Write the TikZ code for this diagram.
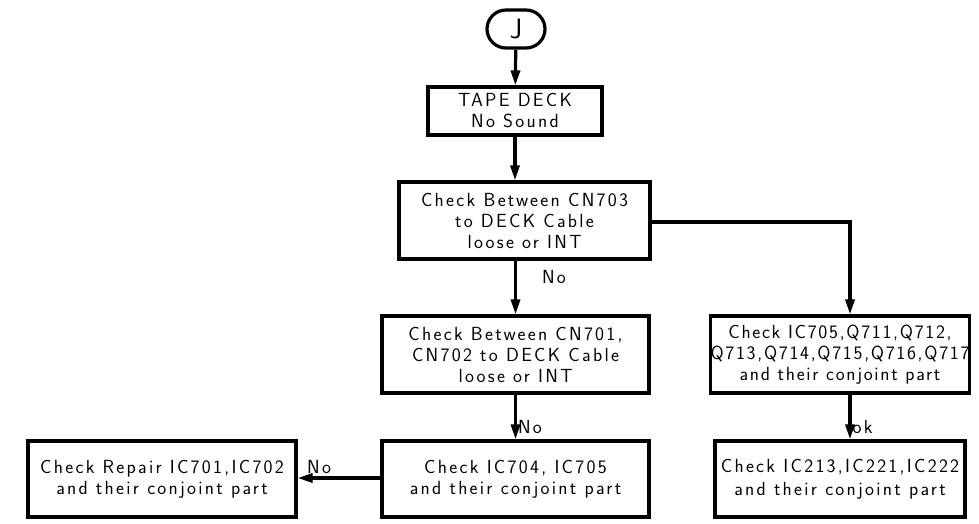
\documentclass[tikz,border=0pt]{standalone}
\usepackage{fontspec}
\setmainfont{Latin Modern Sans}[LetterSpace=12]
\usetikzlibrary{arrows.meta,shapes.misc}

\begin{document}
\begin{tikzpicture}[x=1pt,y=-1pt,
    line width=3.2pt,
    font=\fontsize{19}{21}\selectfont,
    box/.style={draw,rectangle,align=center,inner sep=0pt},
    flow/.style={-{Triangle[length=15pt,width=9pt]}},
    lbl/.style={inner sep=1pt}]
  \useasboundingbox (0,0) rectangle (979,523);
  % flow chart boxes
  \draw
    (516,29) node[draw,rounded rectangle,minimum width=58pt,minimum height=38pt,inner sep=0pt,font=\fontsize{28}{28}\selectfont] (j){J}
    (515,111) node[box,minimum width=174pt,minimum height=48pt] (deck){TAPE DECK\\No Sound}
    (524.5,220.5) node[box,minimum width=251pt,minimum height=77pt] (cn703){Check Between CN703\\to DECK Cable\\loose or INT}
    (515.5,354.5) node[box,minimum width=267pt,minimum height=77pt] (cn701){Check Between CN701,\\CN702 to DECK Cable\\loose or INT}
    (840,354.5) node[box,minimum width=250pt,minimum height=77pt,font=\fontsize{19}{21}\selectfont\addfontfeature{LetterSpace=9}] (q711){Check IC705,Q711,Q712,\\Q713,Q714,Q715,Q716,Q717\\and their conjoint part}
    (515.5,479) node[box,minimum width=267pt,minimum height=76pt] (ic704){Check IC704, IC705\\and their conjoint part}
    (162,479) node[box,minimum width=268pt,minimum height=76pt] (repair){Check Repair IC701,IC702\\and their conjoint part}
    (840,479) node[box,minimum width=250pt,minimum height=76pt,font=\fontsize{19}{23}\selectfont] (ic213){Check IC213,IC221,IC222\\and their conjoint part};
  % connectors
  \begin{scope}[flow]
    \draw (j) to (deck);
    \draw (deck.south) to (deck.south |- cn703.north);
    \draw (cn701.north |- cn703.south) to node[lbl,right,pos=0.3,xshift=24pt]{No} (cn701.north);
    \draw (cn703.east |- 0,222) -| ([xshift=10pt]q711.north);
    \draw (cn701) to node[lbl,right,pos=0.72]{No} (ic704);
    \draw ([xshift=10pt]q711.south) to node[lbl,right,pos=0.72]{ok} ([xshift=10pt]ic213.north);
    \draw (ic704.west |- 0,478) to node[lbl,above,pos=0.74,yshift=2pt]{No} (repair.east |- 0,478);
  \end{scope}
\end{tikzpicture}
\end{document}
